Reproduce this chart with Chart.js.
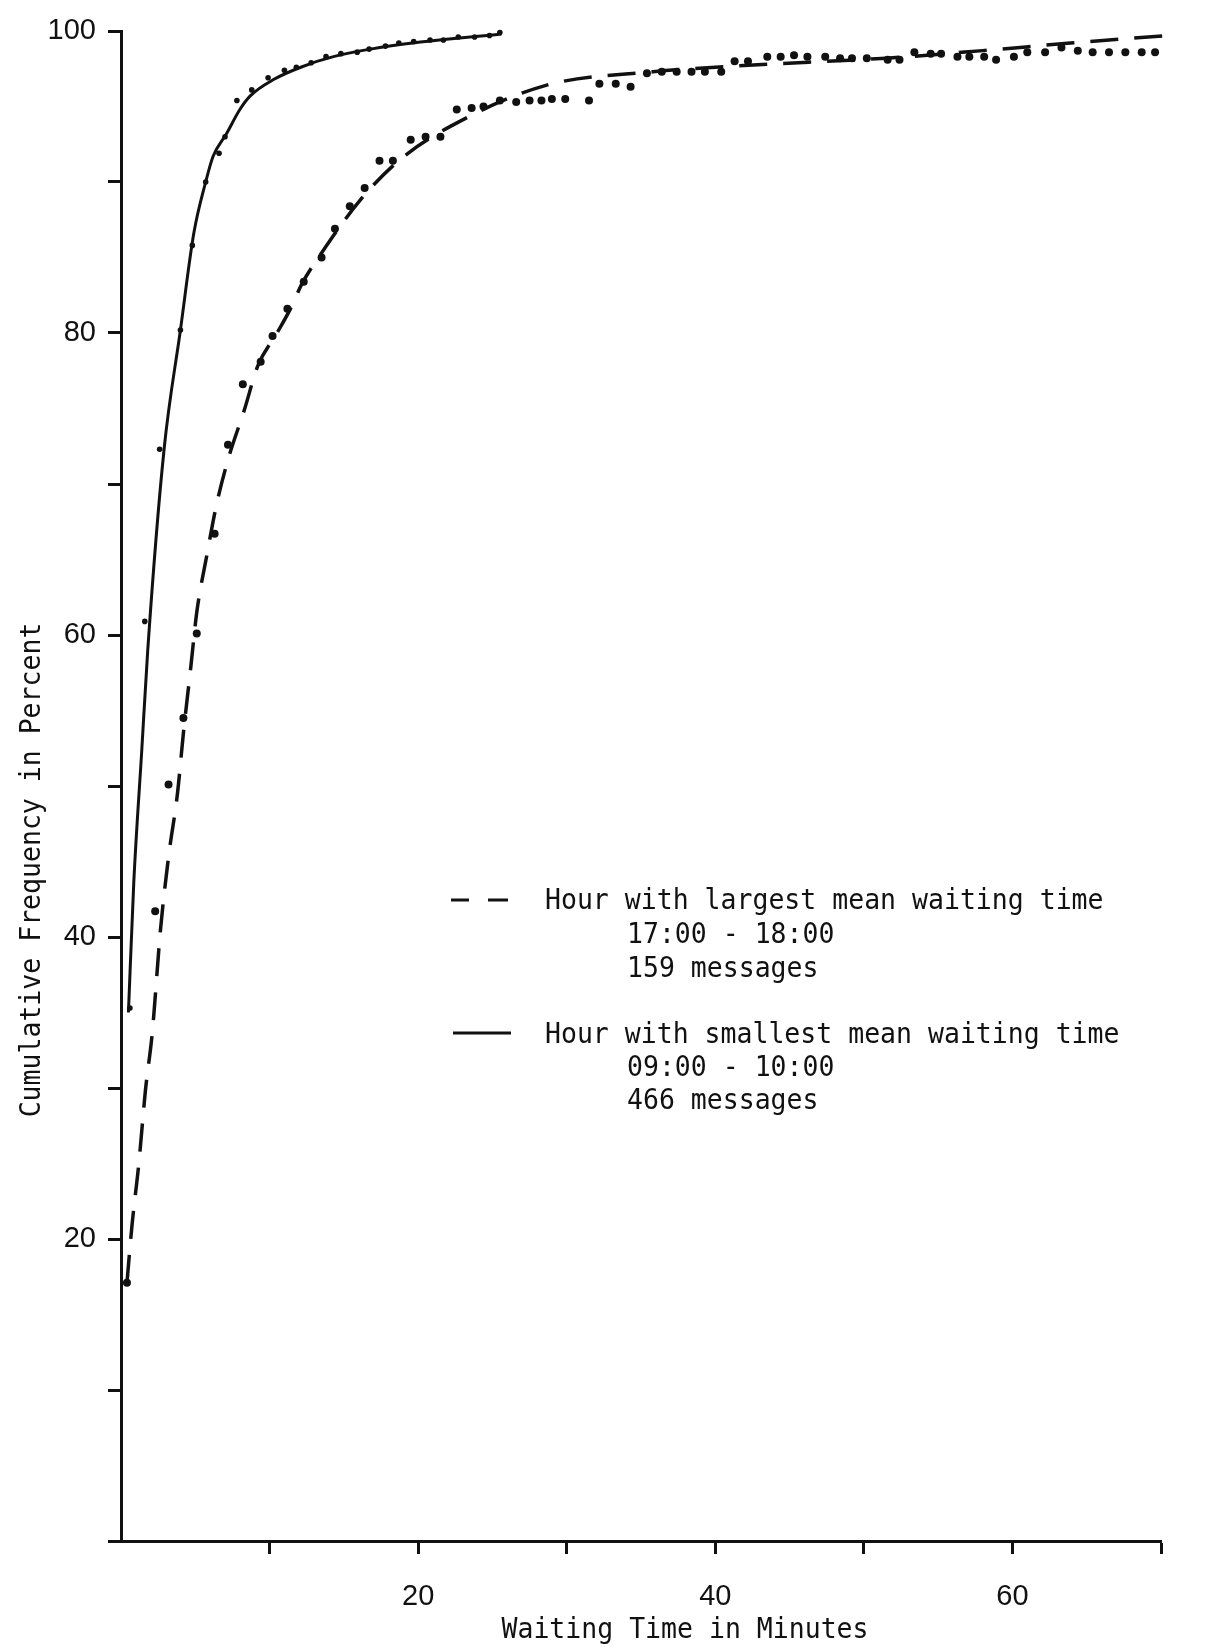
<!DOCTYPE html>
<html lang="en">
<head>
  <meta charset="UTF-8">
  <title>Cumulative Frequency of Waiting Time</title>
  <script src="https://cdn.jsdelivr.net/npm/chart.js"></script>
  <style>
    html, body { margin: 0; padding: 0; background: #fff; }
  </style>
</head>
<body>
  <canvas id="waitChart" width="1220" height="1647"></canvas>

  <script>
    // Hour with smallest mean waiting time (09:00 - 10:00) - observed points
    const smallObsX = [0.6, 1.6, 2.6, 4.0, 4.8, 5.7, 6.6, 7.0, 7.8, 8.8, 9.9, 11.0, 11.8, 12.8, 13.8,
      14.8, 15.9, 16.7, 17.8, 18.7, 19.7, 20.8, 21.7, 22.7, 23.8, 24.8, 25.5];
    const smallObsY = [35.3, 60.9, 72.3, 80.2, 85.8, 90.0, 91.9, 93.0, 95.4, 96.1, 96.9, 97.4, 97.6, 97.9, 98.3,
      98.5, 98.6, 98.8, 99.0, 99.2, 99.3, 99.4, 99.4, 99.6, 99.6, 99.7, 99.9];

    // fitted curve for the same hour (solid line)
    const smallFitX = [0.5, 0.86, 1.4, 1.8, 2.9, 4.0, 4.9, 5.7, 6.2, 7.1, 8.0, 8.7, 10.3, 12.1, 14.3, 18.8, 25.6];
    const smallFitY = [35.0, 43.6, 52.4, 59.0, 72.3, 80.2, 86.6, 90.0, 91.7, 93.2, 94.8, 95.7, 96.8, 97.6, 98.3, 99.1, 99.8];

    // Hour with largest mean waiting time (17:00 - 18:00) - observed points
    const largeObsX = [0.4, 2.3, 3.2, 4.2, 5.1, 6.3, 7.2, 8.2, 9.4, 10.2, 11.2, 12.3, 13.5, 14.4, 15.4,
      16.4, 17.4, 18.3, 19.5, 20.5, 21.5, 22.6, 23.6, 24.4, 25.5, 26.6, 27.5, 28.3, 29.0, 29.9,
      31.5, 32.2, 33.3, 34.3, 35.4, 36.4, 37.4, 38.4, 39.3, 40.4, 41.3, 42.2, 43.5, 44.4, 45.3,
      46.2, 47.4, 48.4, 49.2, 50.2, 51.6, 52.4, 53.4, 54.5, 55.2, 56.3, 57.1, 58.1, 58.9, 60.1,
      61.0, 62.2, 63.3, 64.4, 65.4, 66.5, 67.6, 68.7, 69.6, 70.8];
    const largeObsY = [17.1, 41.7, 50.1, 54.5, 60.1, 66.7, 72.6, 76.6, 78.1, 79.8, 81.6, 83.4, 85.0, 86.9, 88.4,
      89.6, 91.4, 91.4, 92.8, 93.0, 93.0, 94.8, 94.9, 95.0, 95.4, 95.3, 95.4, 95.4, 95.5, 95.5,
      95.4, 96.5, 96.5, 96.3, 97.2, 97.3, 97.3, 97.3, 97.3, 97.3, 98.0, 98.0, 98.3, 98.3, 98.4,
      98.3, 98.3, 98.2, 98.2, 98.2, 98.1, 98.1, 98.6, 98.5, 98.5, 98.3, 98.3, 98.3, 98.1, 98.3,
      98.6, 98.6, 98.9, 98.7, 98.6, 98.6, 98.6, 98.6, 98.6, 99.4];

    // fitted curve for the same hour (dashed line)
    const largeFitX = [0.4, 0.75, 1.2, 1.65, 2.1, 2.66, 3.2, 3.8, 4.2, 4.7, 5.1, 5.8, 6.4, 7.2, 8.3,
      9.2, 10.5, 11.4, 12.2, 13.5, 16.1, 18.8, 22.2, 28.6, 35.8, 41.6, 51.5, 58.0, 63.9, 70.4];
    const largeFitY = [17.1, 21.0, 25.0, 29.9, 33.6, 40.5, 45.3, 49.5, 53.5, 57.9, 61.5, 65.4, 68.5, 71.6, 74.9,
      77.8, 80.0, 81.6, 83.3, 85.3, 88.8, 91.5, 93.7, 96.4, 97.3, 97.7, 98.2, 98.7, 99.2, 99.7];

    const xLabels = [20, 40, 60];
    const yLabels = [20, 40, 60, 80, 100];

    const xTitle = 'Waiting Time in Minutes';
    const yTitle = 'Cumulative Frequency in Percent';
    const legendLarge = ['Hour with largest mean waiting time', '17:00 - 18:00', '159 messages'];
    const legendSmall = ['Hour with smallest mean waiting time', '09:00 - 10:00', '466 messages'];

    const ink = '#111';
    const pts = (xs, ys) => xs.map((x, i) => ({ x: x, y: ys[i] }));

    // typewriter-like text: a slightly condensed mono face
    function typeText(c, str, x, y, angle, align) {
      c.save();
      c.translate(x, y);
      if (angle) c.rotate(angle);
      c.scale(0.93, 1);
      c.textAlign = align || 'left';
      c.fillText(str, 0, 0);
      c.restore();
    }

    // titles and the hand drawn legend
    const annotate = {
      id: 'annotate',
      afterDraw(chart) {
        const c = chart.ctx;
        c.save();
        c.fillStyle = ink;
        c.strokeStyle = ink;
        c.font = '28.5px "DejaVu Sans Mono"';
        c.textBaseline = 'alphabetic';

        typeText(c, xTitle, 685, 1638, 0, 'center');
        typeText(c, yTitle, 40, 870, -Math.PI / 2, 'center');

        typeText(c, legendLarge[0], 545, 909);
        typeText(c, legendLarge[1], 627, 943);
        typeText(c, legendLarge[2], 627, 977);
        typeText(c, legendSmall[0], 545, 1043);
        typeText(c, legendSmall[1], 627, 1076);
        typeText(c, legendSmall[2], 627, 1109);

        c.lineWidth = 3;
        c.beginPath();
        c.moveTo(451, 900); c.lineTo(469, 900);
        c.moveTo(488, 900); c.lineTo(508, 900);
        c.moveTo(453, 1033); c.lineTo(511, 1033);
        c.stroke();
        c.restore();
      }
    };

    const ctx = document.getElementById('waitChart').getContext('2d');
    new Chart(ctx, {
      type: 'scatter',
      data: {
        datasets: [
          {
            label: 'smallest fit',
            data: pts(smallFitX, smallFitY),
            showLine: true,
            borderColor: ink,
            borderWidth: 3,
            pointRadius: 0,
            cubicInterpolationMode: 'monotone',
            clip: false
          },
          {
            label: 'smallest observed',
            data: pts(smallObsX, smallObsY),
            showLine: false,
            pointRadius: 2.8,
            backgroundColor: ink,
            borderWidth: 0,
            clip: false
          },
          {
            label: 'largest fit',
            data: pts(largeFitX, largeFitY),
            showLine: true,
            borderColor: ink,
            borderWidth: 3.5,
            borderDash: [28, 16],
            pointRadius: 0,
            cubicInterpolationMode: 'monotone',
            clip: false
          },
          {
            label: 'largest observed',
            data: pts(largeObsX, largeObsY),
            showLine: false,
            pointRadius: 4,
            backgroundColor: ink,
            borderWidth: 0,
            clip: false
          }
        ]
      },
      options: {
        responsive: false,
        animation: false,
        devicePixelRatio: 1,
        layout: { padding: { top: 31, right: 59, bottom: 0, left: 0 } },
        plugins: {
          legend: { display: false },
          tooltip: { enabled: false }
        },
        scales: {
          x: {
            type: 'linear',
            min: 0,
            max: 70,
            border: { color: ink, width: 3 },
            grid: {
              drawOnChartArea: false,
              tickLength: 13,
              tickWidth: 3,
              tickColor: c => (c.tick && c.tick.value === 0) ? 'rgba(0,0,0,0)' : ink
            },
            ticks: {
              stepSize: 10,
              autoSkip: false,
              maxRotation: 0,
              padding: 26,
              color: ink,
              font: { family: '"Liberation Sans"', size: 29 },
              callback: v => xLabels.includes(v) ? String(v) : ''
            },
            afterFit: s => { s.height = 106; }
          },
          y: {
            min: 0,
            max: 100,
            border: { color: ink, width: 3 },
            grid: {
              drawOnChartArea: false,
              tickLength: 13,
              tickWidth: 3,
              tickColor: ink
            },
            ticks: {
              stepSize: 10,
              autoSkip: false,
              padding: 12,
              color: ink,
              font: { family: '"Liberation Sans"', size: 29 },
              callback: v => yLabels.includes(v) ? String(v) : ''
            },
            afterFit: s => { s.width = 121; }
          }
        }
      },
      plugins: [annotate]
    });
  </script>
</body>
</html>
